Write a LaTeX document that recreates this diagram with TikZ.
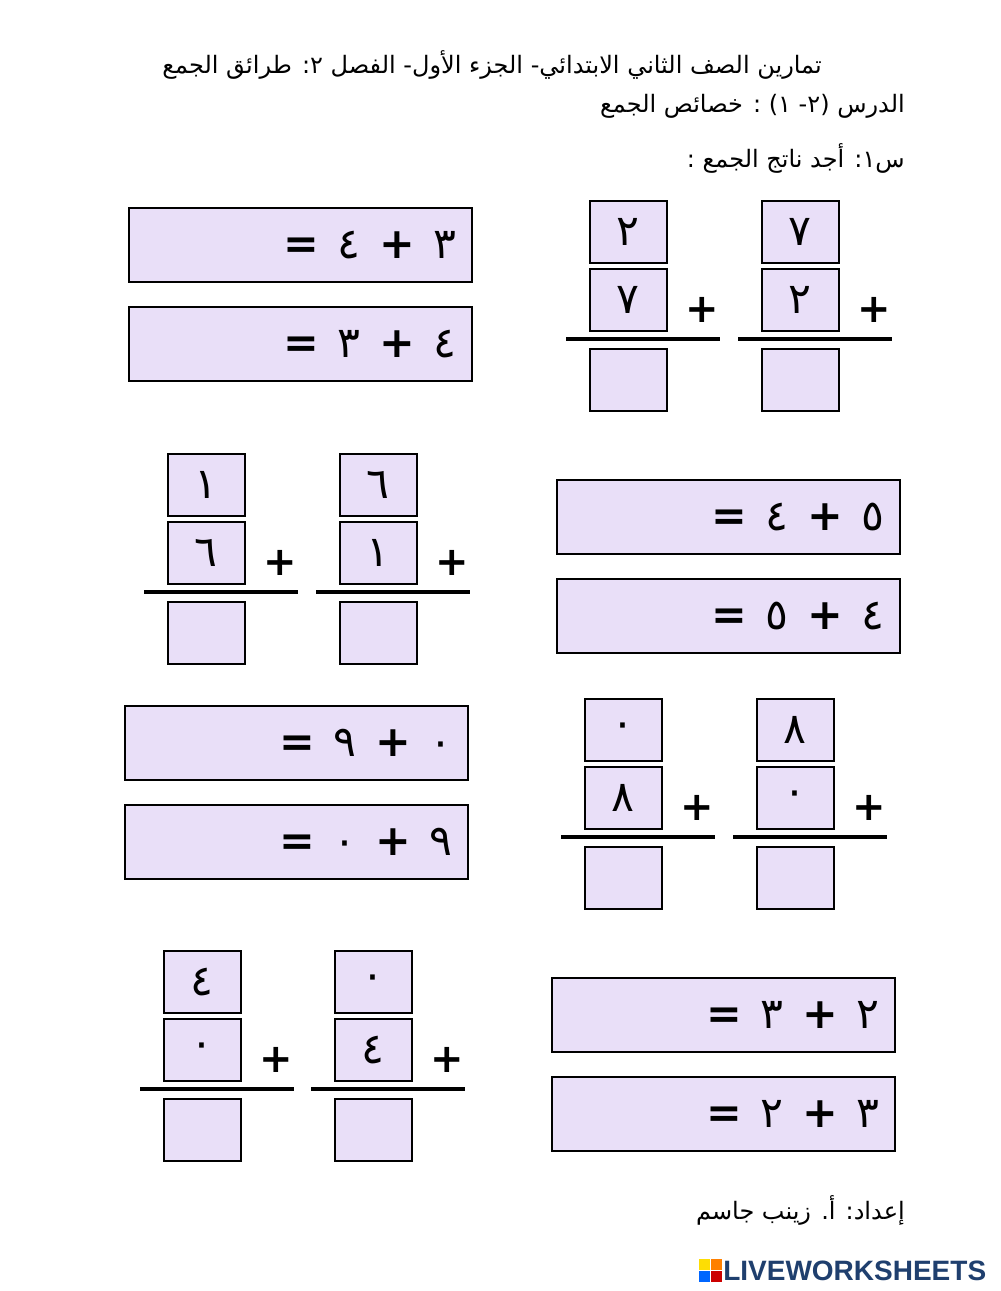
\documentclass[tikz,border=0pt]{standalone}
\usepackage{fontspec}
\setmainfont{Liberation Sans}
\newfontfamily\arabicfont[Script=Arabic]{DejaVu Sans}
\newfontfamily\digfont{DejaVu Sans}
\TeXXeTstate=1
\definecolor{lav}{HTML}{E9DFF8}
\definecolor{navy}{HTML}{1F3F6E}
\newcommand{\eqsp}{\hspace{14pt}}
\tikzset{
 vbox/.style={draw=black,line width=1.2pt,fill=lav,minimum width=57.75pt,minimum height=46.5pt,inner sep=0pt,anchor=north west,font=\digfont\fontsize{32}{32}\selectfont},
 ebox/.style={draw=black,line width=1.2pt,fill=lav,minimum width=257.25pt,minimum height=55.5pt,inner sep=0pt,anchor=north west},
 etext/.style={anchor=east,font=\digfont\fontsize{32}{32}\selectfont,inner sep=0pt},
 plus/.style={font=\digfont\bfseries\fontsize{30}{30}\selectfont,inner sep=0pt},
 rule/.style={line width=2.6pt},
 hdr/.style={anchor=east,font=\arabicfont\fontsize{18}{18}\selectfont,inner sep=0pt}
}
\newcommand{\eq}[2]{\textbf{=}\eqsp#1\eqsp\textbf{+}\eqsp#2}
% #1 prefix, #2 box left x, #3 top y, #4 top digit, #5 mid digit
\newcommand{\vcol}[5]{%
 \node[vbox] (#1a) at (#2,#3) {#4};
 \node[vbox] (#1b) at (#2,#3+68) {#5};
 \node[vbox] (#1c) at (#2,#3+148) {};
 \coordinate (#1l) at (#2-23,#3+139);
 \coordinate (#1r) at (#2+131,#3+139);
 \draw[rule] (#1l) -- (#1r);
 \node[plus] (#1p) at (#2+113,#3+110) {+};
}
\begin{document}
\begin{tikzpicture}[x=0.75pt,y=-0.75pt]
\useasboundingbox (0,0) rectangle (1000,1291);
\fill[white] (0,0) rectangle (1000,1291);
\node[hdr] (h1) at (822,65) {\arabicfont\beginR تمارين الصف الثاني الابتدائي- الجزء الأول- الفصل ٢: طرائق الجمع\endR};
\node[hdr] (h2) at (905,106) {\arabicfont\beginR الدرس (٢- ١) : خصائص الجمع\endR};
\node[hdr] (h3) at (905,158) {\arabicfont\beginR س١: أجد ناتج الجمع :\endR};
% block A
\node[ebox] (e1) at (128,207) {}; \node[etext] (e1t) at ([xshift=-12pt]e1.east) {\eq{٤}{٣}};
\node[ebox] (e2) at (128,306) {}; \node[etext] (e2t) at ([xshift=-12pt]e2.east) {\eq{٣}{٤}};
\vcol{a1}{589}{200}{٢}{٧}
\vcol{a2}{761}{200}{٧}{٢}
% block B
\vcol{b1}{167}{453}{١}{٦}
\vcol{b2}{339}{453}{٦}{١}
\node[ebox] (e3) at (556,479) {}; \node[etext] (e3t) at ([xshift=-12pt]e3.east) {\eq{٤}{٥}};
\node[ebox] (e4) at (556,578) {}; \node[etext] (e4t) at ([xshift=-12pt]e4.east) {\eq{٥}{٤}};
% block C
\node[ebox] (e5) at (124,705) {}; \node[etext] (e5t) at ([xshift=-12pt]e5.east) {\eq{٩}{٠}};
\node[ebox] (e6) at (124,804) {}; \node[etext] (e6t) at ([xshift=-12pt]e6.east) {\eq{٠}{٩}};
\vcol{c1}{584}{698}{٠}{٨}
\vcol{c2}{756}{698}{٨}{٠}
% block D
\vcol{d1}{163}{950}{٤}{٠}
\vcol{d2}{334}{950}{٠}{٤}
\node[ebox] (e7) at (551,977) {}; \node[etext] (e7t) at ([xshift=-12pt]e7.east) {\eq{٣}{٢}};
\node[ebox] (e8) at (551,1076) {}; \node[etext] (e8t) at ([xshift=-12pt]e8.east) {\eq{٢}{٣}};
% footer
\node[hdr] (f1) at (905,1210) {\arabicfont\beginR إعداد: أ. زينب جاسم\endR};
\fill[yellow!80!orange] (699,1259) rectangle (710,1270);
\fill[orange] (711,1259) rectangle (722,1270);
\fill[blue!60!cyan] (699,1271) rectangle (710,1282);
\fill[red!80!black] (711,1271) rectangle (722,1282);
\node[anchor=west,inner sep=0pt,text=navy,font=\bfseries\fontsize{21}{21}\selectfont] (logo) at (723,1271) {LIVEWORKSHEETS};
\end{tikzpicture}
\end{document}
